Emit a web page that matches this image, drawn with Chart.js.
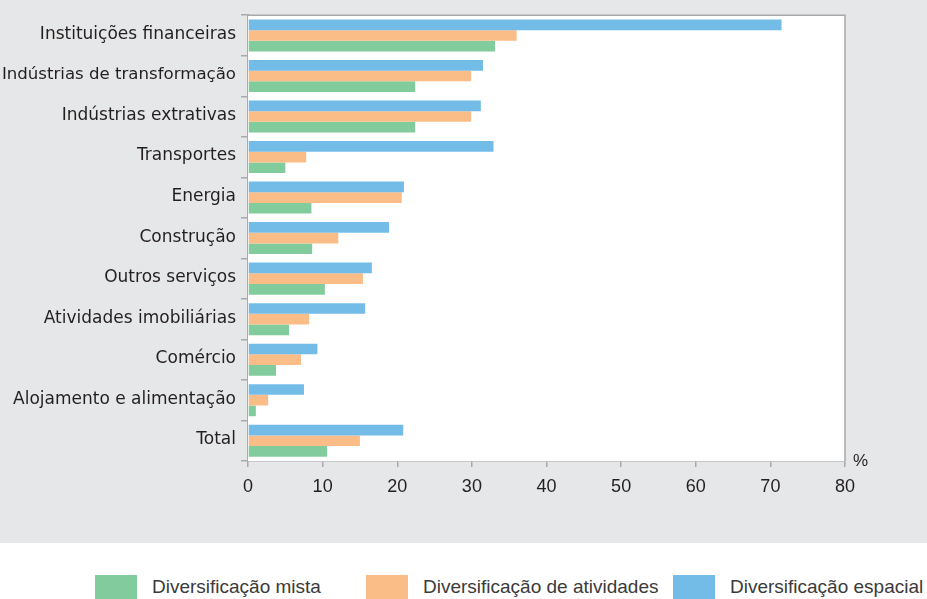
<!DOCTYPE html>
<html>
<head>
<meta charset="utf-8">
<script src="https://cdn.jsdelivr.net/npm/chart.js@4"></script>
<style>
  html, body { margin: 0; padding: 0; background: #ffffff; }
  #wrap { position: relative; width: 927px; height: 543px; background: #e6e7e8; }
  #legend { position: relative; width: 927px; height: 56px; background: #ffffff; }
  .item { position: absolute; top: 32px; height: 24px; display: flex; align-items: center; }
  .box { width: 42px; height: 24px; flex: none; }
  .lbl { font-family: "Liberation Sans", Arial, sans-serif; font-size: 19px; color: #3a3a3a; white-space: nowrap; }
</style>
</head>
<body>
<div id="wrap"><canvas id="c" width="927" height="543"></canvas></div>
<div id="legend"></div>
<script>
// ---- data ----
const categories = [
  "Instituições financeiras",
  "Indústrias de transformação",
  "Indústrias extrativas",
  "Transportes",
  "Energia",
  "Construção",
  "Outros serviços",
  "Atividades imobiliárias",
  "Comércio",
  "Alojamento e alimentação",
  "Total"
];
const espacial   = [71.5, 31.5, 31.2, 32.9, 20.9, 18.9, 16.6, 15.7, 9.3, 7.5, 20.8];
const atividades = [36.0, 29.9, 29.9, 7.8, 20.6, 12.1, 15.4, 8.2, 7.1, 2.7, 15.0];
const mista      = [33.1, 22.4, 22.4, 5.0, 8.5, 8.6, 10.3, 5.5, 3.75, 1.05, 10.6];
const xTicks = [0, 10, 20, 30, 40, 50, 60, 70, 80];
const seriesNames = ["Diversificação espacial", "Diversificação de atividades", "Diversificação mista"];

const colBlue = "#74bce8", colOrange = "#fbbd87", colGreen = "#82cb9c";
const axisGray = "#a7a9ac";

const framePlugin = {
  id: "frame",
  beforeDatasetsDraw(chart) {
    const a = chart.chartArea, ctx = chart.ctx;
    ctx.save();
    ctx.fillStyle = "#ffffff";
    ctx.fillRect(a.left, a.top, a.right - a.left, a.bottom - a.top);
    ctx.restore();
  },
  afterDraw(chart) {
    const a = chart.chartArea, ctx = chart.ctx;
    ctx.save();
    ctx.strokeStyle = axisGray;
    ctx.lineWidth = 1.5;
    ctx.beginPath();
    ctx.moveTo(a.left, a.top);
    ctx.lineTo(a.right, a.top);
    ctx.lineTo(a.right, a.bottom);
    ctx.stroke();
    ctx.fillStyle = "#231f20";
    ctx.font = '17px "Liberation Sans", Arial, sans-serif';
    ctx.textAlign = "left";
    ctx.textBaseline = "middle";
    ctx.fillText("%", a.right + 8, a.bottom);
    ctx.restore();
  }
};

const chart = new Chart(document.getElementById("c"), {
  type: "bar",
  data: {
    labels: categories,
    datasets: [
      { label: seriesNames[0], data: espacial, backgroundColor: colBlue },
      { label: seriesNames[1], data: atividades, backgroundColor: colOrange },
      { label: seriesNames[2], data: mista, backgroundColor: colGreen }
    ]
  },
  options: {
    indexAxis: "y",
    responsive: false,
    devicePixelRatio: 1,
    animation: false,
    categoryPercentage: 0.79,
    barPercentage: 1.0,
    layout: { padding: { top: 13, right: 82, left: 0, bottom: 0 } },
    plugins: { legend: { display: false }, tooltip: { enabled: false } },
    scales: {
      x: {
        min: 0, max: 80,
        afterBuildTicks(scale) { scale.ticks = xTicks.map(v => ({ value: v })); },
        afterFit(scale) { scale.height = 82; },
        grid: { display: true, drawOnChartArea: false, drawTicks: true, tickLength: 6, color: axisGray, lineWidth: 1.5 },
        border: { display: true, color: axisGray, width: 1.5 },
        ticks: { color: "#231f20", font: { family: '"Liberation Sans", Arial, sans-serif', size: 18 }, padding: 9 }
      },
      y: {
        afterFit(scale) { scale.width = 248; },
        grid: { display: true, drawOnChartArea: false, drawTicks: true, tickLength: 7, color: axisGray, lineWidth: 1.5, offset: true },
        border: { display: true, color: axisGray, width: 2 },
        ticks: {
          color: "#231f20",
          font: (ctx) => ({ family: '"DejaVu Sans", sans-serif', size: (ctx.index === 1 ? 16.6 : 17) }),
          padding: 5, labelOffset: -1, autoSkip: false
        }
      }
    }
  },
  plugins: [framePlugin]
});

// HTML legend, order: mista, atividades, espacial
const legendOrder = [2, 1, 0];
const legendX = [95, 366, 673];
const legend = document.getElementById("legend");
legendOrder.forEach((di, i) => {
  const ds = chart.data.datasets[di];
  const item = document.createElement("div");
  item.className = "item";
  item.style.left = legendX[i] + "px";
  const box = document.createElement("div");
  box.className = "box";
  box.style.background = ds.backgroundColor;
  const lbl = document.createElement("span");
  lbl.className = "lbl";
  lbl.style.marginLeft = "15px";
  lbl.textContent = ds.label;
  item.appendChild(box);
  item.appendChild(lbl);
  legend.appendChild(item);
});
</script>
</body>
</html>
